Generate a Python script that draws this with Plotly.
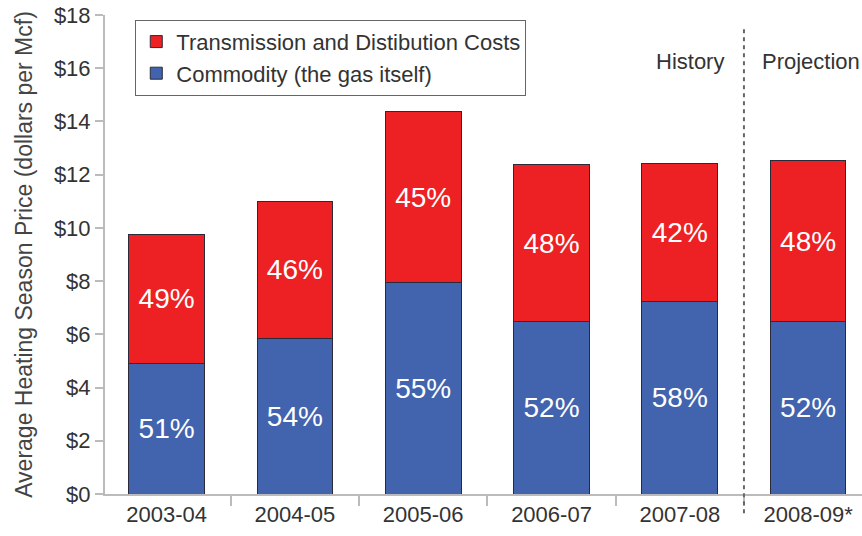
import plotly.graph_objects as go

seasons = ["2003-04", "2004-05", "2005-06", "2006-07", "2007-08", "2008-09*"]
commodity = [4.92, 5.86, 7.93, 6.47, 7.22, 6.47]
transmission = [4.82, 5.12, 6.43, 5.90, 5.19, 6.05]
commodity_pct = ["51%", "54%", "55%", "52%", "58%", "52%"]
transmission_pct = ["49%", "46%", "45%", "48%", "42%", "48%"]
y_ticks = [0, 2, 4, 6, 8, 10, 12, 14, 16, 18]
y_tick_text = ["$0", "$2", "$4", "$6", "$8", "$10", "$12", "$14", "$16", "$18"]

RED = "#ED2024"
BLUE = "#4263AE"
FONT = "Liberation Sans, Arial, sans-serif"

fig = go.Figure()
fig.add_trace(go.Bar(
    x=seasons, y=commodity, name="Commodity (the gas itself)",
    marker=dict(color=BLUE, line=dict(color="#2a2a3a", width=1)),
    text=commodity_pct, textposition="inside", insidetextanchor="middle",
    textangle=0, constraintext="none",
    textfont=dict(color="white", size=28, family=FONT),
    hoverinfo="skip",
))
fig.add_trace(go.Bar(
    x=seasons, y=transmission, name="Transmission and Distibution Costs",
    marker=dict(color=RED, line=dict(color="#2a2a3a", width=1)),
    text=transmission_pct, textposition="inside", insidetextanchor="middle",
    textangle=0, constraintext="none",
    textfont=dict(color="white", size=28, family=FONT),
    hoverinfo="skip",
))

fig.add_shape(type="line", xref="x", yref="paper", x0=4.5, x1=4.5, y0=-0.04, y1=0.975,
              line=dict(color="#666666", width=2, dash="4px,4px"))
fig.add_annotation(x=4.08, y=0.902, xref="x", yref="paper", yanchor="middle",
                   text="History", showarrow=False,
                   font=dict(size=22, color="#333333", family=FONT))
fig.add_annotation(x=5.02, y=0.902, xref="x", yref="paper", yanchor="middle",
                   text="Projection", showarrow=False,
                   font=dict(size=22, color="#333333", family=FONT))

fig.update_layout(
    width=862, height=536,
    margin=dict(l=105, r=0, t=15, b=42),
    paper_bgcolor="white", plot_bgcolor="white",
    barmode="stack", bargap=0.41,
    font=dict(family=FONT, color="#333333"),
    showlegend=True,
    legend=dict(
        x=0.04, y=0.99, xanchor="left", yanchor="top",
        traceorder="reversed",
        bordercolor="#666666", borderwidth=1, bgcolor="white",
        font=dict(size=22, color="#333333", family=FONT),
    ),
    xaxis=dict(
        type="category",
        range=[-0.48, 5.42], showline=True, linecolor="#bbbbbb", linewidth=2,
        ticks="outside", tickson="boundaries", ticklen=10, tickcolor="#bbbbbb", tickwidth=2,
        tickfont=dict(size=22, color="#333333"), showgrid=False,
    ),
    yaxis=dict(
        range=[0, 18], tickvals=y_ticks, ticktext=y_tick_text,
        showline=True, linecolor="#bbbbbb", linewidth=2,
        ticks="outside", ticklen=8, tickcolor="#bbbbbb", tickwidth=2,
        tickfont=dict(size=22, color="#333333"), showgrid=False, zeroline=False,
        title=dict(text="Average Heating Season Price (dollars per Mcf)",
                   font=dict(size=23, color="#444444"), standoff=15),
    ),
)

fig.write_html("out.html")
